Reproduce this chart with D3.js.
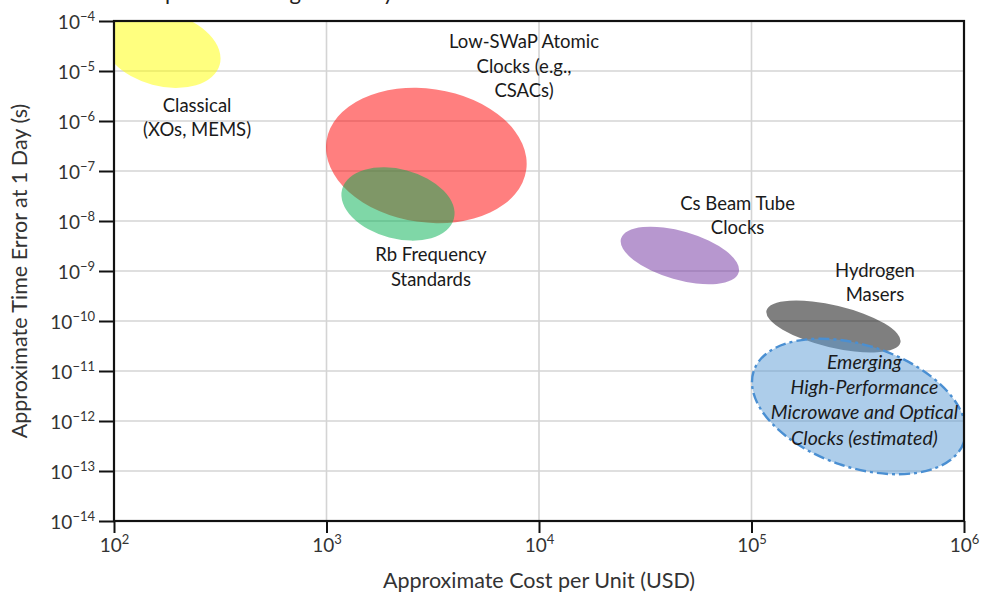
<!DOCTYPE html>
<html>
<head>
<meta charset="utf-8">
<script src="https://cdn.jsdelivr.net/npm/d3@7"></script>
<style>
  html, body { margin: 0; padding: 0; background: #ffffff; }
  svg { display: block; }
  text { font-family: Lato, "Noto Sans", sans-serif; }
</style>
</head>
<body>
<svg id="chart" width="982" height="594"></svg>
<script>
// Clock technology regions: typical unit cost vs. time error after one day
const technologies = [
  "Classical",
  "Low-SWaP Atomic Clocks",
  "Rb Frequency Standards",
  "Cs Beam Tube Clocks",
  "Hydrogen Masers",
  "Emerging High-Performance Clocks"
];
// centre of each region (USD, seconds)
const centerCost  = [168, 2950, 2170, 46000, 243000, 320000];
const centerError = [2.75e-5, 2.04e-7, 2.19e-8, 2.04e-9, 7.76e-11, 1.95e-12];
// half-widths of each region, in decades along the cost and error axes
const costSpread  = [0.282, 0.475, 0.272, 0.288, 0.324, 0.522];
const errorSpread = [0.74, 1.336, 0.694, 0.484, 0.422, 1.218];

// label lines for each region and where the first line sits (USD, seconds)
const labelLines = [
  ["Classical", "(XOs, MEMS)"],
  ["Low-SWaP Atomic", "Clocks (e.g.,", "CSACs)"],
  ["Rb Frequency", "Standards"],
  ["Cs Beam Tube", "Clocks"],
  ["Hydrogen", "Masers"],
  ["Emerging", "High-Performance", "Microwave and Optical", "Clocks (estimated)"]
];
const labelCost  = [246, 8500, 3100, 86000, 381000, 340000];
const labelError = [1.51e-6, 2.82e-5, 1.55e-9, 1.66e-8, 7.6e-10, 1.1e-11];

const xTickExps = [2, 3, 4, 5, 6];
const yTickExps = [-14, -13, -12, -11, -10, -9, -8, -7, -6, -5, -4];

const chartTitle = "Clock Options: Timing Accuracy";
const xTitle = "Approximate Cost per Unit (USD)";
const yTitle = "Approximate Time Error at 1 Day (s)";

// ---- styling ----
const fills = ["#FFFF00", "#FF0000", "#00B050", "#7030A0", "#000000", "#5B9BD5"];
const tilts = [15, 8.3, 14.8, 16.1, 13.4, 18.7];
const italicLabel = [false, false, false, false, false, true];

const margin = { left: 114, right: 18, top: 21, bottom: 73 };
const W = 982, H = 594;

const svg = d3.select("#chart");

const x = d3.scaleLog().domain([1e2, 1e6]).range([margin.left, W - margin.right]);
const y = d3.scaleLog().domain([1e-14, 1e-4]).range([H - margin.bottom, margin.top]);

const [x0, x1] = x.range();
const [y1, y0] = y.range();

// title (runs off the top edge)
svg.append("text")
  .attr("x", 88).attr("y", 0)
  .attr("font-size", 22).attr("fill", "#222")
  .text(chartTitle);

svg.append("clipPath").attr("id", "plotClip")
  .append("rect").attr("x", x0).attr("y", y0).attr("width", x1 - x0).attr("height", y1 - y0);

// grid
const grid = svg.append("g");
grid.selectAll("line.v").data(xTickExps.slice(1, -1)).join("line")
  .attr("x1", d => x(Math.pow(10, d))).attr("x2", d => x(Math.pow(10, d)))
  .attr("y1", y0).attr("y2", y1)
  .attr("stroke", "#d4d4d4").attr("stroke-width", 1.6);
grid.selectAll("line.h").data(yTickExps.slice(1, -1)).join("line")
  .attr("y1", d => y(Math.pow(10, d))).attr("y2", d => y(Math.pow(10, d)))
  .attr("x1", x0).attr("x2", x1)
  .attr("stroke", "#d4d4d4").attr("stroke-width", 1.6);

// regions
const regions = svg.append("g").attr("clip-path", "url(#plotClip)");
technologies.forEach((name, i) => {
  const cx = x(centerCost[i]);
  const cy = y(centerError[i]);
  const rx = x(centerCost[i] * Math.pow(10, costSpread[i])) - cx;
  const ry = y(centerError[i] / Math.pow(10, errorSpread[i])) - cy;
  const e = regions.append("ellipse")
    .attr("cx", cx).attr("cy", cy).attr("rx", rx).attr("ry", ry)
    .attr("transform", `rotate(${tilts[i]},${cx},${cy})`)
    .attr("fill", fills[i]).attr("fill-opacity", 0.5);
  if (italicLabel[i]) {
    e.attr("stroke", "#4a8fd2").attr("stroke-width", 2.4)
     .attr("stroke-dasharray", "11,4,3,4");
  }
});

// frame
svg.append("rect")
  .attr("x", x0).attr("y", y0).attr("width", x1 - x0).attr("height", y1 - y0)
  .attr("fill", "none").attr("stroke", "#111").attr("stroke-width", 2.2);

// axes
const supLabel = (sel, exp) => {
  sel.text(null);
  sel.append("tspan").text("10");
  sel.append("tspan")
    .attr("font-size", 13).attr("dy", -8)
    .text(exp < 0 ? "\u2212" + Math.abs(exp) : String(exp));
};

const xAxis = svg.append("g")
  .attr("transform", `translate(0,${y1})`)
  .call(d3.axisBottom(x).tickValues(xTickExps.map(e => Math.pow(10, e))).tickSize(12).tickFormat(""));
xAxis.select(".domain").remove();
xAxis.selectAll(".tick line").attr("stroke", "#111").attr("stroke-width", 2);
xAxis.selectAll(".tick").each(function (d) {
  const t = d3.select(this).append("text")
    .attr("y", 31).attr("x", 0)
    .attr("text-anchor", "middle")
    .attr("fill", "#333").attr("font-size", 19);
  supLabel(t, Math.round(Math.log10(d)));
});

const yAxis = svg.append("g")
  .attr("transform", `translate(${x0},0)`)
  .call(d3.axisLeft(y).tickValues(yTickExps.map(e => Math.pow(10, e))).tickSize(15).tickFormat(""));
yAxis.select(".domain").remove();
yAxis.selectAll(".tick line").attr("stroke", "#111").attr("stroke-width", 2);
yAxis.selectAll(".tick").each(function (d) {
  const t = d3.select(this).append("text")
    .attr("x", -19).attr("y", 7)
    .attr("text-anchor", "end")
    .attr("fill", "#333").attr("font-size", 19);
  supLabel(t, Math.round(Math.log10(d)));
});

// axis titles
svg.append("text")
  .attr("x", (x0 + x1) / 2).attr("y", 588)
  .attr("text-anchor", "middle").attr("font-size", 21.5).attr("fill", "#333")
  .text(xTitle);
svg.append("text")
  .attr("transform", `translate(27,${(y0 + y1) / 2}) rotate(-90)`)
  .attr("text-anchor", "middle").attr("font-size", 21.5).attr("fill", "#333")
  .text(yTitle);

// region labels
const labels = svg.append("g");
labelLines.forEach((lines, i) => {
  const italic = italicLabel[i];
  const t = labels.append("text")
    .attr("x", x(labelCost[i])).attr("y", y(labelError[i]))
    .attr("text-anchor", "middle")
    .attr("font-size", italic ? 19.5 : 18.5)
    .attr("fill", "#1a1a1a")
    .attr("font-style", italic ? "italic" : "normal");
  lines.forEach((ln, k) => {
    t.append("tspan").attr("x", x(labelCost[i]))
      .attr("dy", k === 0 ? 0 : (italic ? 25.2 : 24.2)).text(ln);
  });
});
</script>
</body>
</html>
